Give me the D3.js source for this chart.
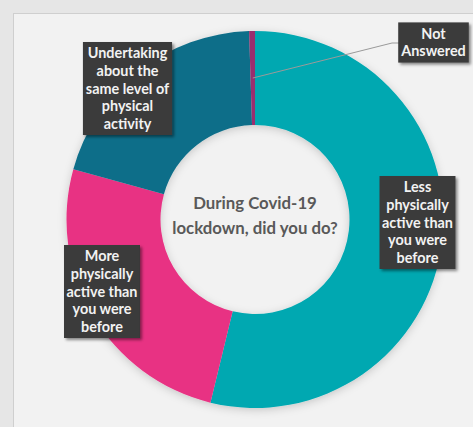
<!DOCTYPE html>
<html>
<head>
<meta charset="utf-8">
<script src="https://cdn.jsdelivr.net/npm/d3@7"></script>
<style>
  html, body { margin: 0; padding: 0; background: #e6e6e6; }
  svg { display: block; }
  text { font-family: Lato, "Open Sans", sans-serif; }
</style>
</head>
<body>
<svg id="chart" width="473" height="427"></svg>
<script>
// Survey responses (share of respondents, %)
const categories = [
  "Less physically active than you were before",
  "More physically active than you were before",
  "Undertaking about the same level of physical activity",
  "Not Answered"
];
const values = [53.8, 25.5, 20.2, 0.5];
const colors = ["#00a8b1", "#e83283", "#0f6e89", "#9a2d6e"];
// Wrapped label lines for each category
const labelLines = [
  ["Less", "physically", "active than", "you were", "before"],
  ["More", "physically", "active than", "you were", "before"],
  ["Undertaking", "about the", "same level of", "physical", "activity"],
  ["Not", "Answered"]
];
const titleLines = ["During Covid-19", "lockdown, did you do?"];

const W = 473, H = 427;
const cx = 255, cy = 219.5;
const rOuter = 188.5, rInner = 94.5;

const svg = d3.select("#chart");
const defs = svg.append("defs");

const ringShadow = defs.append("filter").attr("id", "ringShadow")
  .attr("x", "-20%").attr("y", "-20%").attr("width", "140%").attr("height", "140%");
ringShadow.append("feDropShadow").attr("dx", 0).attr("dy", 2)
  .attr("stdDeviation", 4).attr("flood-color", "#000").attr("flood-opacity", 0.18);

const boxShadow = defs.append("filter").attr("id", "boxShadow")
  .attr("x", "-20%").attr("y", "-20%").attr("width", "150%").attr("height", "150%");
boxShadow.append("feDropShadow").attr("dx", 2).attr("dy", 2)
  .attr("stdDeviation", 1.5).attr("flood-color", "#000").attr("flood-opacity", 0.45);

// panel
svg.append("rect").attr("x", 0).attr("y", 0).attr("width", W).attr("height", H).attr("fill", "#e6e6e6");
svg.append("rect").attr("x", 13.5).attr("y", 13.5).attr("width", W + 20).attr("height", H + 20)
  .attr("fill", "#f2f2f2").attr("stroke", "#cfcfcf").attr("stroke-width", 1);

const pie = d3.pie().sort(null).value(d => d)
  .startAngle(0).endAngle(2 * Math.PI);
const arcs = pie(values);
const arc = d3.arc().innerRadius(rInner).outerRadius(rOuter);

const g = svg.append("g").attr("transform", `translate(${cx},${cy})`);
const ring = g.append("g").attr("filter", "url(#ringShadow)");
ring.selectAll("path").data(arcs).join("path")
  .attr("d", arc)
  .attr("fill", (d, i) => colors[i]);

// centre title
const title = g.append("text").attr("text-anchor", "middle")
  .attr("font-weight", 700).attr("font-size", 16.8).attr("fill", "#595959");
titleLines.forEach((t, i) => {
  title.append("tspan").attr("x", 0).attr("y", -16 + i * 25).attr("dy", "0.35em").text(t);
});

// label callouts (box centres in chart coordinates)
const boxCentres = [[417.5, 222.5], [102, 291.5], [127.5, 88.5], [433.5, 42.5]];
const lineH = 17.6;

// leader line for the thin slice
const na = arcs[3];
const naAngle = na.startAngle + (na.endAngle - na.startAngle) / 2;
const leaderStart = [cx + (rInner + 47) * Math.sin(naAngle), cy - (rInner + 47) * Math.cos(naAngle)];
svg.append("polyline")
  .attr("points", [leaderStart, [392, 43], [399, 43]].map(p => p.join(",")).join(" "))
  .attr("fill", "none").attr("stroke", "#9a9a9a").attr("stroke-width", 1);

labelLines.forEach((lines, i) => {
  const [bx, by] = boxCentres[i];
  const lg = svg.append("g").attr("transform", `translate(${bx},${by})`);
  const rect = lg.append("rect").attr("fill", "#3a3a3a").attr("filter", "url(#boxShadow)");
  const txt = lg.append("text").attr("text-anchor", "middle")
    .attr("font-weight", 700).attr("font-size", 14.4).attr("fill", "#f2f2f2");
  const n = lines.length;
  lines.forEach((t, k) => {
    txt.append("tspan").attr("x", 0)
      .attr("y", (k - (n - 1) / 2) * lineH).attr("dy", "0.35em").text(t);
  });
  const bb = txt.node().getBBox();
  const w = bb.width + 5, h = n * lineH + 5;
  rect.attr("x", -w / 2).attr("y", -h / 2).attr("width", w).attr("height", h);
});
</script>
</body>
</html>
